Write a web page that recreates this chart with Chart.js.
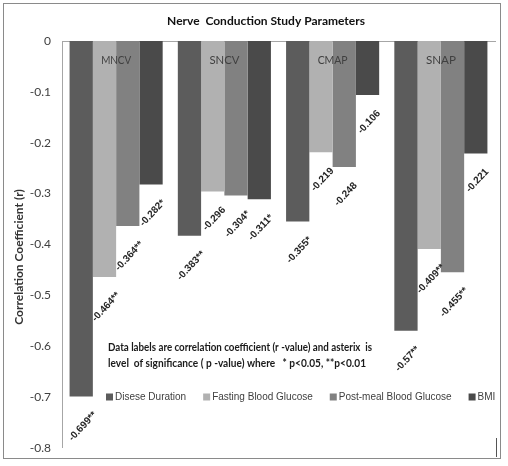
<!DOCTYPE html>
<html>
<head>
<meta charset="utf-8">
<script src="https://cdn.jsdelivr.net/npm/chart.js@4"></script>
<style>
  html, body { margin: 0; padding: 0; background: #fff; }
</style>
</head>
<body>
<canvas id="ncsChart" width="508" height="466"></canvas>
<script>
// Nerve conduction study parameters vs correlation coefficient (r)
const categories = ["MNCV", "SNCV", "CMAP", "SNAP"];
const seriesNames = ["Disese Duration", "Fasting Blood Glucose", "Post-meal Blood Glucose", "BMI"];
const seriesColors = ["#5c5c5c", "#b1b1b1", "#818181", "#4a4a4a"];

const diseaseDuration = [-0.699, -0.383, -0.355, -0.57];
const fastingGlucose = [-0.464, -0.296, -0.219, -0.409];
const postMealGlucose = [-0.364, -0.304, -0.248, -0.455];
const bmi = [-0.282, -0.311, -0.106, -0.221];

// significance asterisks, same order as categories
const diseaseStars = ["**", "**", "*", "**"];
const fastingStars = ["**", "", "", "**"];
const postMealStars = ["**", "*", "", "**"];
const bmiStars = ["*", "*", "", ""];

const yTickLabels = ["-0.8", "-0.7", "-0.6", "-0.5", "-0.4", "-0.3", "-0.2", "-0.1", "0"];

const chartTitle = "Nerve  Conduction Study Parameters";
const yTitle = "Correlation Coefficient (r)";
const noteLines = [
    "Data labels are correlation coefficient (r -value) and asterix  is",
    "level  of significance ( p -value) where   * p<0.05, **p<0.01"
];

const narrow = "'DejaVu Sans Condensed', sans-serif";
const lato = "Lato, 'Open Sans', sans-serif";
const sans = "'Liberation Sans', Arial, sans-serif";

const seriesValues = [diseaseDuration, fastingGlucose, postMealGlucose, bmi];
const seriesStars = [diseaseStars, fastingStars, postMealStars, bmiStars];

// frame, titles, category names, rotated value labels, note and legend
const decorPlugin = {
    id: "decor",
    beforeDraw(chart) {
        const ctx = chart.ctx;
        ctx.save();
        ctx.fillStyle = "#fff";
        ctx.fillRect(0, 0, chart.width, chart.height);
        ctx.strokeStyle = "#8a8a8a";
        ctx.lineWidth = 1;
        ctx.strokeRect(3.5, 3.5, 497, 455);
        ctx.beginPath();
        ctx.moveTo(496.5, 438);
        ctx.lineTo(496.5, 457);
        ctx.strokeStyle = "#555";
        ctx.stroke();
        ctx.restore();
    },
    afterDatasetsDraw(chart) {
        const ctx = chart.ctx;
        const area = chart.chartArea;
        const xScale = chart.scales.x;
        ctx.save();

        // chart title
        ctx.font = "bold 12px " + lato;
        ctx.fillStyle = "#111";
        ctx.textAlign = "center";
        ctx.textBaseline = "middle";
        ctx.fillText(chartTitle, 266, 21, 202);

        // y axis title
        ctx.save();
        ctx.translate(19, 257);
        ctx.rotate(-Math.PI / 2);
        ctx.font = "bold 12px " + lato;
        ctx.fillStyle = "#333";
        ctx.fillText(yTitle, 0, 0, 146);
        ctx.restore();

        // category names inside top of the plot
        ctx.font = "12px " + lato;
        ctx.fillStyle = "#404040";
        categories.forEach((c, i) => {
            ctx.fillText(c, xScale.getPixelForValue(i), area.top + 19, 30);
        });

        // rotated data labels under each bar end
        ctx.font = "bold 10px " + sans;
        ctx.fillStyle = "#262626";
        chart.data.datasets.forEach((ds, di) => {
            const meta = chart.getDatasetMeta(di);
            meta.data.forEach((bar, i) => {
                const text = String(ds.data[i]) + ds.stars[i];
                const w = ctx.measureText(text).width;
                const drop = 14 + (w + 9) * 0.354;
                ctx.save();
                ctx.translate(bar.x + 1.5, bar.y + drop);
                ctx.rotate(-47 * Math.PI / 180);
                ctx.fillText(text, 0, 0);
                ctx.restore();
            });
        });

        // note
        ctx.font = "bold 11px " + lato;
        ctx.fillStyle = "#1a1a1a";
        ctx.textAlign = "left";
        ctx.fillText(noteLines[0], 108, 347, 264);
        ctx.fillText(noteLines[1], 108, 363, 258);

        // legend
        ctx.font = "10px " + sans;
        let lx = 106;
        const ly = 397;
        chart.data.datasets.forEach((ds) => {
            ctx.fillStyle = ds.backgroundColor;
            ctx.fillRect(lx, ly - 3.5, 7, 7);
            ctx.fillStyle = "#404040";
            ctx.fillText(ds.label, lx + 9, ly);
            lx += 9 + ctx.measureText(ds.label).width + 17;
        });

        ctx.restore();
    }
};

new Chart(document.getElementById("ncsChart"), {
    type: "bar",
    data: {
        labels: categories,
        datasets: seriesNames.map((name, i) => ({
            label: name,
            data: seriesValues[i],
            stars: seriesStars[i],
            backgroundColor: seriesColors[i],
            borderWidth: 0,
            categoryPercentage: 0.86,
            barPercentage: 1
        }))
    },
    options: {
        responsive: false,
        animation: false,
        devicePixelRatio: 1,
        layout: {
            padding: { left: 6, right: 13, bottom: 17, top: 41 }
        },
        plugins: {
            legend: { display: false },
            tooltip: { enabled: false },
            title: { display: false }
        },
        scales: {
            x: {
                position: "top",
                grid: { display: false, drawTicks: false },
                ticks: { display: false },
                border: { display: true, color: "#a6a6a6" }
            },
            y: {
                min: -0.8,
                max: 0,
                afterFit(scale) { scale.width = 56; },
                grid: { display: false, drawTicks: false },
                border: { display: true, color: "#a6a6a6" },
                ticks: {
                    stepSize: 0.1,
                    padding: 11,
                    color: "#404040",
                    font: { family: lato, size: 12 },
                    callback: (value) => yTickLabels[Math.round((value + 0.8) / 0.1)]
                }
            }
        }
    },
    plugins: [decorPlugin]
});
</script>
</body>
</html>
